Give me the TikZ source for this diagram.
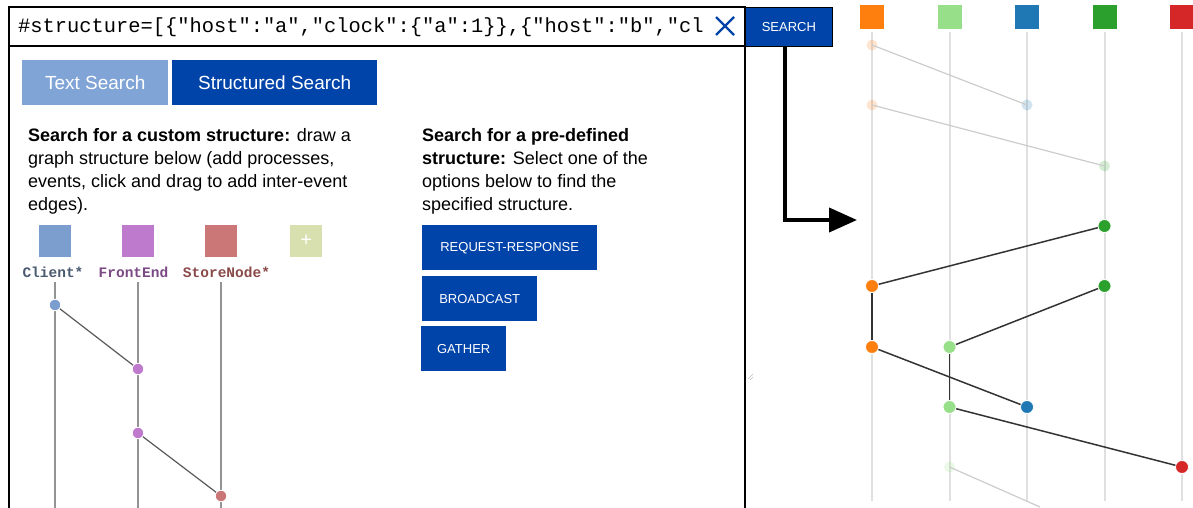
\documentclass[tikz,border=0pt]{standalone}
\usepackage{fontspec}
\setmainfont{Liberation Sans}
\setmonofont{Liberation Mono}
\usetikzlibrary{positioning,arrows.meta}

\definecolor{navy}{HTML}{0044AA}
\definecolor{paleblue}{HTML}{80A4D6}
\definecolor{clientc}{HTML}{7B9ECF}
\definecolor{frontc}{HTML}{BE7ACC}
\definecolor{storec}{HTML}{CC7777}
\definecolor{plusc}{HTML}{D8E0AF}
\definecolor{d3orange}{HTML}{FF7F0E}
\definecolor{d3lgreen}{HTML}{98DF8A}
\definecolor{d3blue}{HTML}{1F77B4}
\definecolor{d3green}{HTML}{2CA02C}
\definecolor{d3red}{HTML}{D62728}

\tikzset{
    btn/.style={fill=navy,text=white,inner sep=0,anchor=north west,font=\fontsize{13}{15}\selectfont},
    tab/.style={text=white,inner sep=0,anchor=north west,minimum height=45,font=\fontsize{19}{22}\selectfont},
    procbox/.style={inner sep=0,minimum size=32,anchor=north west},
    hostbox/.style={inner sep=0,minimum size=25,draw=white,line width=0.8},
    proclabel/.style={font=\fontsize{14.5}{16}\selectfont\ttfamily\bfseries},
}

\begin{document}
\begin{tikzpicture}[x=1pt,y=-1pt]
    \useasboundingbox (0,0) rectangle (1193,508);

    % panel frame
    \draw[line width=2.5] (9,508) -- (9,7) -- (745,7) -- (745,508);
    \draw[line width=2.5] (9,46) -- (745,46);
    \node[anchor=west,inner sep=0,font=\fontsize{20.4}{22}\selectfont\ttfamily] (query) at (18,27)
        {\#structure=[\{"host":"a","clock":\{"a":1\}\},\{"host":"b","cl};
    \draw[navy,line width=2.2] (716,17) -- (734,35) (734,17) -- (716,35);
    \node[btn,draw=black,line width=0.8,minimum width=87,minimum height=39] (search) at (745,7) {SEARCH};

    % tabs
    \node[tab,fill=paleblue,minimum width=146] (textsearch) at (22,60) {Text Search};
    \node[tab,fill=navy,minimum width=205] (structsearch) at (172,60) {Structured Search};

    % descriptions
    \begin{scope}[every node/.style={anchor=north west,inner sep=0,align=left,font=\fontsize{18}{23}\selectfont}]
        \node (custom) at (28,128) {\textbf{Search for a custom structure:} draw a\\
            graph structure below (add processes,\\
            events, click and drag to add inter-event\\
            edges).};
        \node (predef) at (422,128) {\textbf{Search for a pre-defined}\\
            \textbf{structure:} Select one of the\\
            options below to find the\\
            specified structure.};
    \end{scope}

    % predefined structures
    \node[btn,minimum width=175,minimum height=45] (reqresp) at (422,225) {REQUEST-RESPONSE};
    \node[btn,minimum width=115,minimum height=45] (bcast) at (422,276) {BROADCAST};
    \node[btn,minimum width=85,minimum height=45] (gather) at (421,326) {GATHER};

    % custom structure editor
    \node[procbox,fill=clientc] (client) at (39,225) {};
    \node[procbox,fill=frontc] (front) at (122,225) {};
    \node[procbox,fill=storec] (store) at (205,225) {};
    \node[procbox,fill=plusc,text=white,font=\fontsize{20}{20}\selectfont] (plus) at (290,225) {+};
    \node[proclabel,text={rgb,255:red,74;green,90;blue,112}] (clientlbl) at (53,272) {Client*};
    \node[proclabel,text={rgb,255:red,123;green,74;blue,133}] (frontlbl) at (133.5,272) {FrontEnd};
    \node[proclabel,text={rgb,255:red,138;green,74;blue,74}] (storelbl) at (226.5,272) {StoreNode*};

    \coordinate (clientend) at (55,508);
    \coordinate (frontend) at (138,508);
    \coordinate (storeend) at (221,508);
    \begin{scope}[every path/.style={draw=gray!85,line width=1.8}]
        \path (55,282) -- (clientend);
        \path (138,282) -- (frontend);
        \path (221,282) -- (storeend);
    \end{scope}

    \begin{scope}[every node/.style={circle,inner sep=0,minimum size=11.5,draw=white,line width=0.8}]
        \node[fill=clientc] (c1) at (55,305) {};
        \node[fill=frontc] (f1) at (138,369) {};
        \node[fill=frontc] (f2) at (138,433) {};
        \node[fill=storec] (s1) at (221,496) {};
    \end{scope}

    \begin{scope}[every edge/.style={draw=black!65,line width=1.2}]
        \path (c1) edge (f1);
        \path (f2) edge (s1);
    \end{scope}

    % resize grip
    \draw[gray!50,line width=0.6] (748,379) -- (753,374) (750,380) -- (753,377);

    % search result arrow
    \coordinate (turn) at (785,220);
    \coordinate (tip) at (857,220);
    \draw[line width=4,-{Triangle[length=28,width=24]}] (search.south -| turn) -- (turn) -- (tip);

    % hosts of the result
    \node[hostbox,fill=d3orange] (h1) at (872,16.5) {};
    \node[hostbox,fill=d3lgreen] (h2) at (949.5,16.5) {};
    \node[hostbox,fill=d3blue] (h3) at (1027,16.5) {};
    \node[hostbox,fill=d3green] (h4) at (1104.5,16.5) {};
    \node[hostbox,fill=d3red] (h5) at (1182,16.5) {};

    \foreach \h in {1,...,5} {
        \coordinate (end\h) at (h\h |- 0,501);
        \draw[black!12,line width=2] ([yshift=-3]h\h.south) -- (end\h);
    }

    % faded events
    \begin{scope}[every node/.style={circle,inner sep=0,minimum size=11,opacity=0.2}]
        \node[fill=d3orange] (a1) at (872,45) {};
        \node[fill=d3orange] (a2) at (872,105) {};
        \node[fill=d3blue] (b1) at (1027,105) {};
        \node[fill=d3green] (d1) at (1104.5,166) {};
        \node[fill=d3lgreen] (g3) at (949.5,467) {};
    \end{scope}
    \coordinate (offpage) at (1040,507);

    \begin{scope}[every edge/.style={draw=black!20,line width=1.2}]
        \path (a1.center) edge (b1.center);
        \path (a2.center) edge (d1.center);
        \path (g3.center) edge (offpage);
    \end{scope}

    % matched events
    \begin{scope}[every node/.style={circle,inner sep=0,minimum size=13,draw=white,line width=0.8}]
        \node[fill=d3green] (d2) at (1104.5,226) {};
        \node[fill=d3orange] (a3) at (872,286) {};
        \node[fill=d3green] (d3) at (1104.5,286) {};
        \node[fill=d3orange] (a4) at (872,347) {};
        \node[fill=d3lgreen] (g1) at (949.5,347) {};
        \node[fill=d3lgreen] (g2) at (949.5,407) {};
        \node[fill=d3blue] (b2) at (1027,407) {};
        \node[fill=d3red] (r1) at (1182,467) {};
    \end{scope}

    \begin{scope}[every edge/.style={draw=black!80,line width=1.5}]
        \path (a3) edge (d2);
        \path (a3) edge (a4);
        \path (g1) edge (d3);
        \path (a4) edge (b2);
        \path (g1) edge (g2);
        \path (g2) edge (r1);
    \end{scope}

\end{tikzpicture}
\end{document}
